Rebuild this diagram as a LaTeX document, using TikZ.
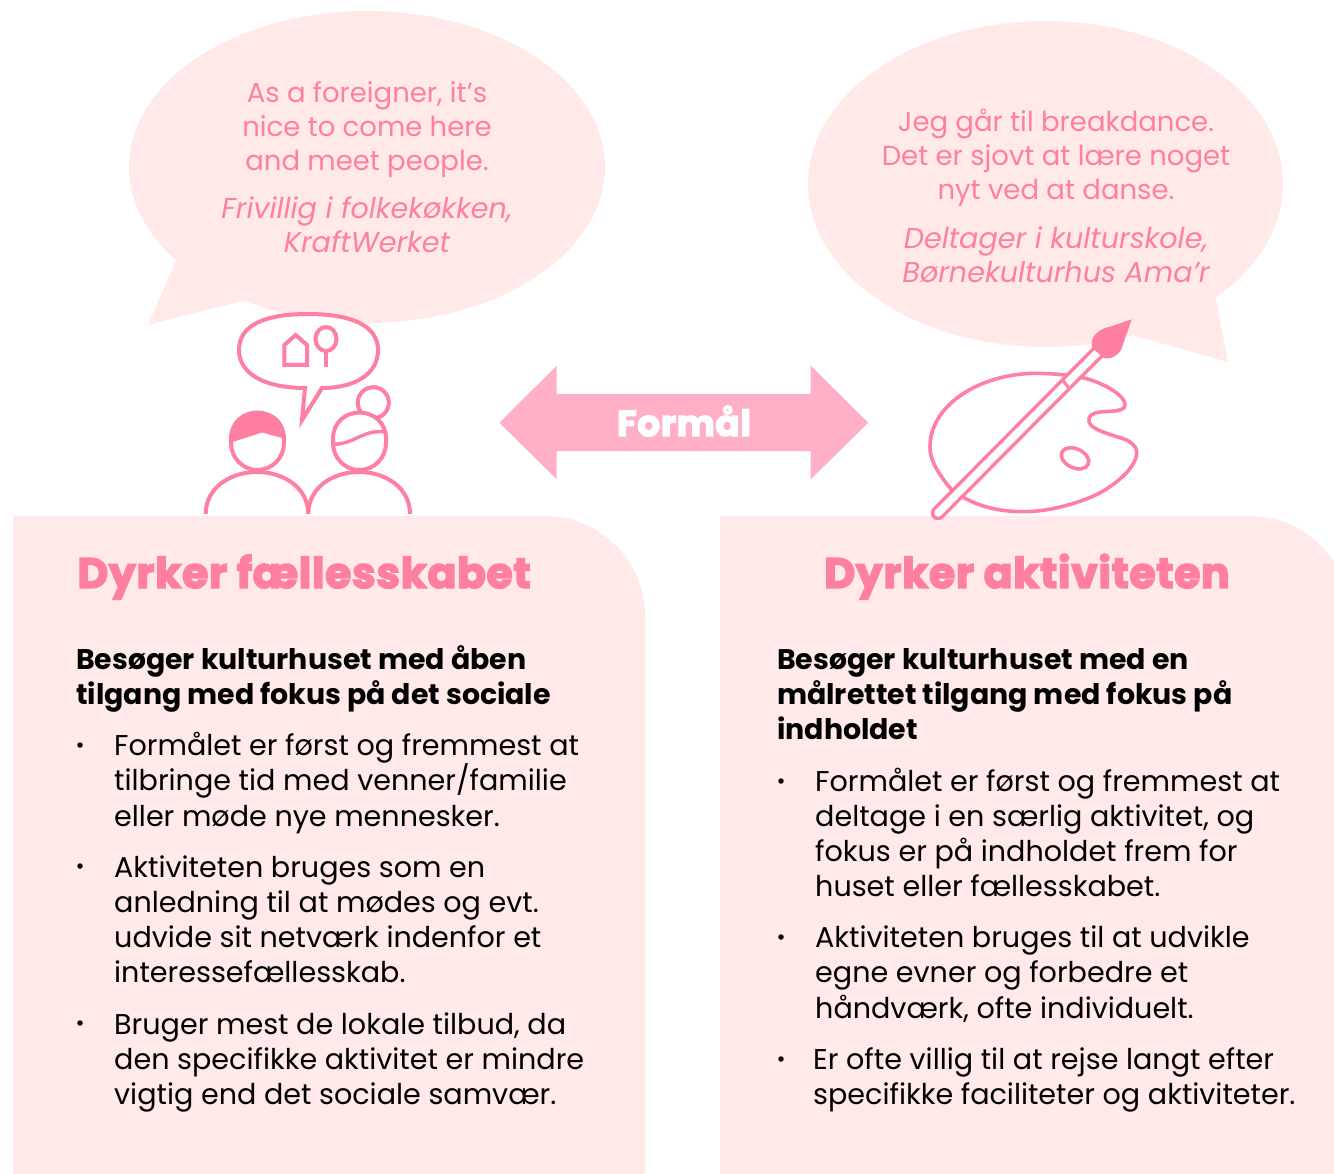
\documentclass[tikz,border=0pt]{standalone}
\usepackage{fontspec}
\setmainfont{Poppins}
\newfontfamily\heavyfont[FakeBold=3.5,LetterSpace=1.5]{Poppins Bold}
\newcommand{\fs}{\rule{0pt}{30pt}}
\definecolor{panelpink}{HTML}{FFE9E9}
\definecolor{linepink}{HTML}{FF7FA3}
\definecolor{arrowpink}{HTML}{FFB0C6}
\tikzset{
 icon/.style={draw=linepink,line width=4pt,line join=miter,fill=white},
 panel/.style={fill=panelpink,draw=none},
 bodytext/.style={anchor=north west,inner sep=0pt,align=left,text=black,font=\fontsize{28.6}{35.2}\selectfont},
 leadtext/.style={anchor=north west,inner sep=0pt,align=left,text=black,font=\fontsize{28.4}{35}\selectfont\bfseries},
 bullet/.style={circle,fill=black,inner sep=0pt,minimum size=5.5pt},
 quotetext/.style={anchor=north,inner sep=0pt,align=center,text=linepink,font=\fontsize{27.5}{34}\selectfont},
 sourcetext/.style={anchor=north,inner sep=0pt,align=center,text=linepink,font=\fontsize{28.6}{34}\selectfont\itshape},
 headtext/.style={anchor=base,inner sep=0pt,text=linepink,font=\fontsize{42.5}{46}\selectfont\heavyfont},
}
\begin{document}
\begin{tikzpicture}[x=1pt,y=-1pt]
\useasboundingbox (0,0) rectangle (1334,1174);
\begin{scope}
\clip (0,0) rectangle (1334,1174);
% speech bubbles
\fill[panelpink] (367,167) ellipse [x radius=238,y radius=156];
\fill[panelpink] (176,260) -- (148,325) -- (245,300) -- (300,250) -- cycle;
\fill[panelpink] (1045.5,184) ellipse [x radius=237.5,y radius=163];
\fill[panelpink] (1215,295) -- (1228,362) -- (1125,333) -- (1100,280) -- cycle;
% panels
\fill[panel] (13,1174) -- (13,516) -- (545,516) .. controls (600.2,516) and (645,560.8) .. (645,616) -- (645,1174) -- cycle;
\fill[panel] (720,1174) -- (720,516) -- (1250,516) .. controls (1305.2,516) and (1350,560.8) .. (1350,616) -- (1350,1174) -- cycle;
\end{scope}
% double arrow
\fill[arrowpink] (499.3,422.7) -- (556.7,365.7) -- (556.7,394) -- (810.7,394) -- (810.7,365.7) -- (868.3,422.7) -- (810.7,479.3) -- (810.7,451) -- (556.7,451) -- (556.7,479.3) -- cycle;
\node[anchor=base,inner sep=0pt,text=white,font=\fontsize{36}{38}\selectfont\heavyfont] (formaal) at (684,436) {Formål};
% people icon: bubble
\draw[icon,line join=miter] (305,388) -- (302,420) -- (322,388)
  .. controls (355,388) and (378,374) .. (378,350)
  .. controls (378,325) and (350,314) .. (308,314)
  .. controls (265,314) and (239,325) .. (239,350)
  .. controls (239,374) and (265,388) .. (305,388) -- cycle;
\draw[icon,fill=none] (284.3,365) -- (284.3,345) -- (295.7,335) -- (307,345) -- (307,365) -- cycle;
\draw[icon,fill=none] (326,339) ellipse [x radius=10.5,y radius=12];
\draw[icon,fill=none] (326,351) -- (326,367);
% bodies
\draw[icon,fill=none] (205.7,514) .. controls (205.7,488) and (230,472) .. (257,472) .. controls (284,472) and (308.3,488) .. (308.3,514);
\draw[icon,fill=none] (308.3,514) .. controls (308.3,488) and (332,472) .. (359,472) .. controls (386,472) and (410,488) .. (410,514);
% left head
\draw[icon] (231,438.5) .. controls (231,423) and (243,412.5) .. (257.3,412.5) .. controls (272,412.5) and (284,423) .. (284,438.5) -- (284,443) .. controls (284,458) and (272,470) .. (257.3,470) .. controls (243,470) and (231,458) .. (231,443) -- cycle;
\fill[linepink] (231,442.5) -- (231,438.5) .. controls (231,423) and (243,412.5) .. (257.3,412.5) .. controls (272,412.5) and (284,423) .. (284,438.5) -- (262,432.5) -- cycle;
% right person
\draw[icon] (373.3,402.7) circle [radius=15.5];
\draw[icon] (333,438.5) .. controls (333,423) and (345,412.5) .. (359.3,412.5) .. controls (374,412.5) and (386,423) .. (386,438.5) -- (386,443) .. controls (386,458) and (374,470) .. (359.3,470) .. controls (345,470) and (333,458) .. (333,443) -- cycle;
\draw[icon,fill=none,line width=3.4pt] (333.3,444.3) .. controls (355,444) and (362,430) .. (384,431.7);
% palette
\draw[icon,line width=3.6pt,line cap=round] (951.7,490) .. controls (935,470) and (930,458) .. (930,446.7)
 .. controls (930,405) and (980,373.3) .. (1036.7,373.3) .. controls (1050,373.3) and (1070,375) .. (1085,378.3)
 .. controls (1100,382) and (1125,394) .. (1125,405) .. controls (1125,412) and (1110,411) .. (1100,412)
 .. controls (1092,413) and (1088,416) .. (1089,421.7) .. controls (1091,430) and (1110,434) .. (1126.7,440)
 .. controls (1134,444) and (1137,448) .. (1136.7,453) .. controls (1136,470) and (1108,492) .. (1083.3,500)
 .. controls (1062,508) and (1040,511.7) .. (1023.3,511.7) .. controls (1000,511.7) and (975,507) .. (951.7,490) -- cycle;
\draw[icon,line width=3.6pt,fill=none,rotate around={-25:(1075,458.3)}] (1075,458.3) ellipse [x radius=14.5,y radius=9.5];
% brush
\draw[line width=14.5pt,draw=linepink,line cap=round] (938,513) -- (1098,352);
\draw[line width=7.5pt,draw=white,line cap=round] (938,513) -- (1098,352);
\draw[draw=linepink,line width=3pt] (1063,380.5) -- (1068.5,387.5);
\fill[linepink] (1092.7,348.3) .. controls (1090,340) and (1094,335) .. (1096.7,333.3)
 .. controls (1102,328) and (1110,326.7) .. (1110,326.7) -- (1131.7,319.3) -- (1123.3,343.3)
 .. controls (1122,349) and (1120,352) .. (1118.3,353.3) .. controls (1114,358) and (1108,359) .. (1104,358.3) -- cycle;
% quotes
\node[quotetext] (q1) at (367,72) {\fs As a foreigner, it’s\\nice to come here\\and meet people.};
\node[sourcetext] (s1) at (367,188) {\fs Frivillig i folkekøkken,\\KraftWerket};
\node[quotetext] (q2) at (1056,101) {\fs Jeg går til breakdance.\\Det er sjovt at lære noget\\nyt ved at danse.};
\node[sourcetext] (s2) at (1056,218) {\fs Deltager i kulturskole,\\Børnekulturhus Ama’r};
% headings
\node[headtext] (h1) at (304,588) {Dyrker fællesskabet};
\node[headtext] (h2) at (1027,588) {Dyrker aktiviteten};
% left column
\node[leadtext] (l0) at (76,639) {\fs Besøger kulturhuset med åben\\tilgang med fokus på det sociale};
\node[bullet] (b1) at (80,745) {};
\node[bodytext] (l1) at (114,725.5) {\fs Formålet er først og fremmest at\\tilbringe tid med venner/familie\\eller møde nye mennesker.};
\node[bullet] (b2) at (80,866) {};
\node[bodytext] (l2) at (114,847) {\fs Aktiviteten bruges som en\\anledning til at mødes og evt.\\udvide sit netværk indenfor et\\interessefællesskab.};
\node[bullet] (b3) at (80,1023) {};
\node[bodytext] (l3) at (114,1004) {\fs Bruger mest de lokale tilbud, da\\den specifikke aktivitet er mindre\\vigtig end det sociale samvær.};
% right column
\node[leadtext] (r0) at (777,639) {\fs Besøger kulturhuset med en\\målrettet tilgang med fokus på\\indholdet};
\node[bullet] (c1) at (781,781) {};
\node[bodytext] (r1) at (815,761) {\fs Formålet er først og fremmest at\\deltage i en særlig aktivitet, og\\fokus er på indholdet frem for\\huset eller fællesskabet.};
\node[bullet] (c2) at (781,937) {};
\node[bodytext] (r2) at (815,917.5) {\fs Aktiviteten bruges til at udvikle\\egne evner og forbedre et\\håndværk, ofte individuelt.};
\node[bullet] (c3) at (781,1059) {};
\node[bodytext] (r3) at (813,1039) {\fs Er ofte villig til at rejse langt efter\\specifikke faciliteter og aktiviteter.};
\end{tikzpicture}
\end{document}
